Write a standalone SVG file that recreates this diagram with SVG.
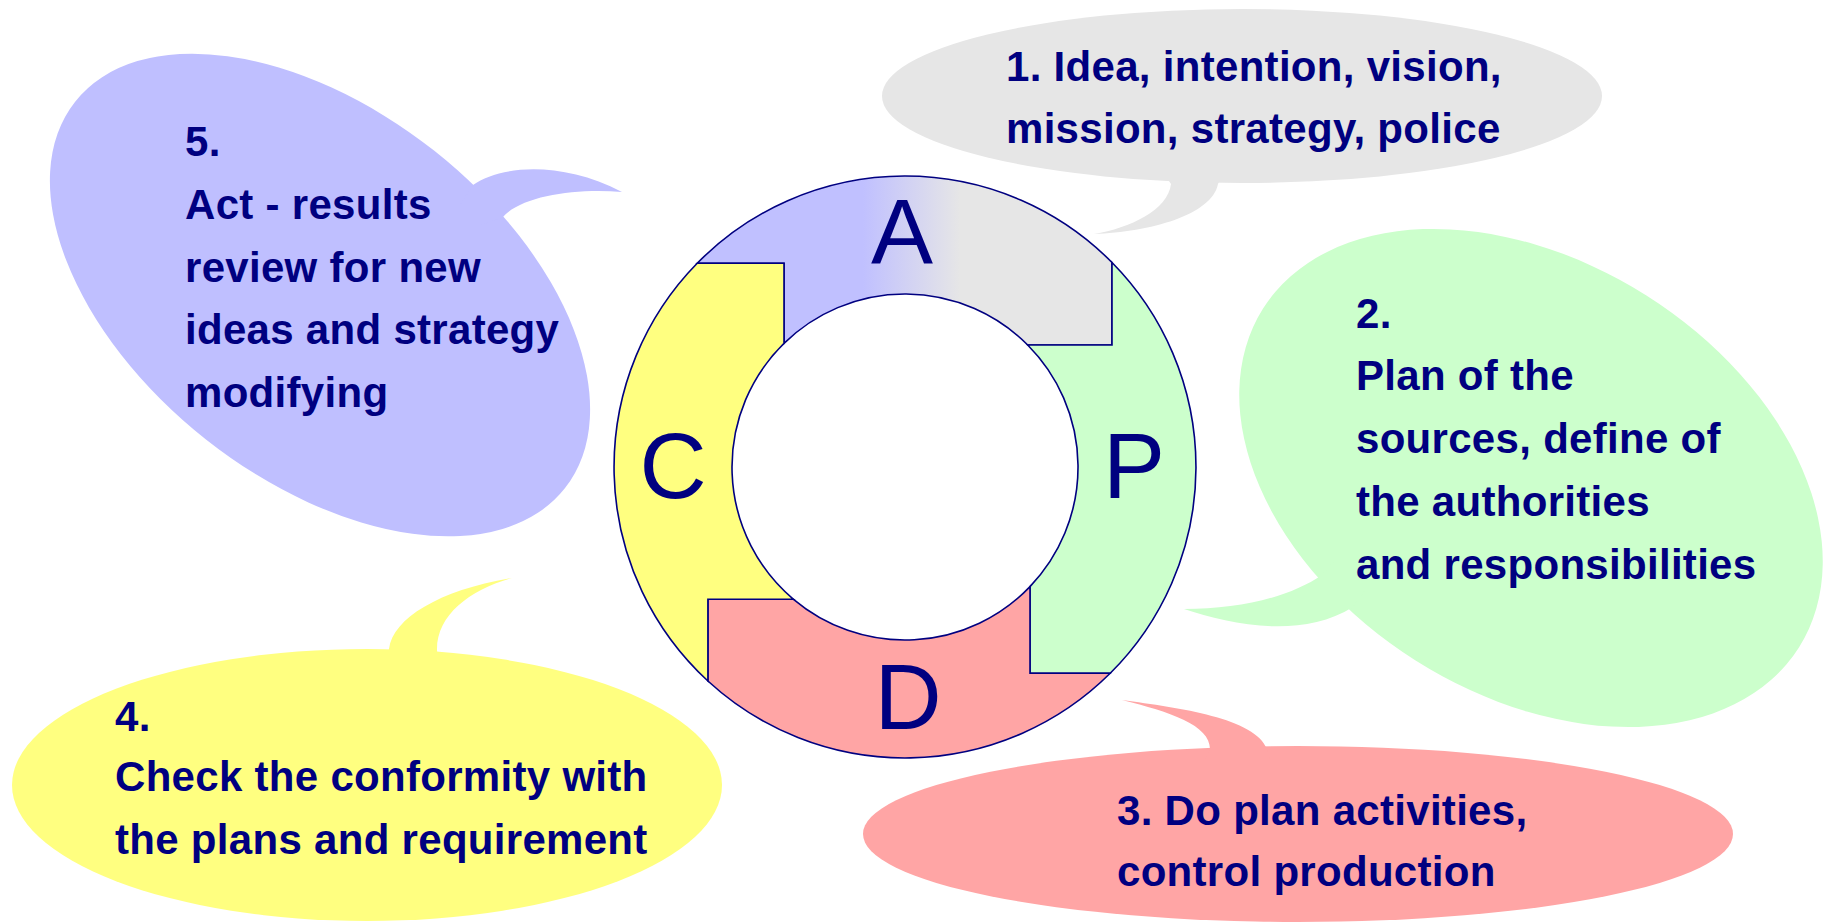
<svg xmlns="http://www.w3.org/2000/svg" width="1826" height="924" viewBox="0 0 1826 924">
<defs>
<linearGradient id="gA" gradientUnits="userSpaceOnUse" x1="863" y1="0" x2="960" y2="0">
<stop offset="0" stop-color="#C0C0FF"/>
<stop offset="1" stop-color="#E6E6E6"/>
</linearGradient>
<style>
.t{font-family:"Liberation Sans",Arial,sans-serif;font-weight:bold;font-size:42px;fill:#000080;letter-spacing:0.3px}
.L{font-family:"Liberation Sans",Arial,sans-serif;font-size:93px;fill:#000080;text-anchor:middle}
.seg{stroke:#000080;stroke-width:1.6;stroke-linejoin:miter}
</style>
</defs>
<rect width="1826" height="924" fill="#FFFFFF"/>
<g id="bubble5" fill="#BFBFFF">
<ellipse cx="320" cy="295" rx="312" ry="184" transform="rotate(38.3 320 295)"/>
<path d="M460,205 L473,185 C500,166 560,160 622,192 C575,188 520,196 502,218 L480,225 Z"/>
<text class="t" x="185" y="156">5.</text>
<text class="t" x="185" y="219">Act - results</text>
<text class="t" x="185" y="282">review for new</text>
<text class="t" x="185" y="344">ideas and strategy</text>
<text class="t" x="185" y="407">modifying</text>
</g>
<g id="bubble1" fill="#E6E6E6">
<ellipse cx="1242" cy="96" rx="360" ry="87"/>
<path d="M1165,175 L1171,184 C1168,210 1130,228 1094,234 C1150,232 1212,215 1218,184 L1222,175 Z"/>
<text class="t" x="1006" y="81">1. Idea, intention, vision,</text>
<text class="t" x="1006" y="143">mission, strategy, police</text>
</g>
<g id="bubble2" fill="#CCFFCC">
<ellipse cx="1531" cy="478" rx="317" ry="216" transform="rotate(32.3 1531 478)"/>
<path d="M1335,560 L1322,575 C1290,597 1240,609 1184,609 C1230,624 1300,640 1353,607 L1365,590 Z"/>
<text class="t" x="1356" y="328">2.</text>
<text class="t" x="1356" y="390">Plan of the</text>
<text class="t" x="1356" y="453">sources, define of</text>
<text class="t" x="1356" y="516">the authorities</text>
<text class="t" x="1356" y="579">and responsibilities</text>
</g>
<g id="bubble3" fill="#FFA5A5">
<ellipse cx="1298" cy="834" rx="435" ry="88"/>
<path d="M1205,760 L1210,749 C1210,725 1170,712 1122,700 C1180,708 1255,718 1267,749 L1270,760 Z"/>
<text class="t" x="1117" y="825">3. Do plan activities,</text>
<text class="t" x="1117" y="886">control production</text>
</g>
<g id="bubble4" fill="#FFFF80">
<ellipse cx="367" cy="785" rx="355" ry="136"/>
<path d="M385,662 L389,649 C393,618 440,590 512,578 C470,590 436,615 437,651 L440,662 Z"/>
<text class="t" x="115" y="731">4.</text>
<text class="t" x="115" y="791">Check the conformity with</text>
<text class="t" x="115" y="854">the plans and requirement</text>
</g>
<g id="ring">
<path id="segA" class="seg" fill="url(#gA)" d="M697.2,263.3 A291,291 0 0 1 1112,262.5 L1112,345 L1027.7,345 A173,173 0 0 0 784,343.4 L784,263.3 Z"/>
<path id="segP" class="seg" fill="#CCFFCC" d="M1112,262.5 A291,291 0 0 1 1110.2,673.3 L1030,673.3 L1030,586.6 A173,173 0 0 0 1027.7,345 L1112,345 Z"/>
<path id="segD" class="seg" fill="#FFA5A5" d="M1110.2,673.3 A291,291 0 0 1 707.9,681 L707.9,599.3 L793.5,599.3 A173,173 0 0 0 1030,586.6 L1030,673.3 Z"/>
<path id="segC" class="seg" fill="#FFFF80" d="M707.9,681 A291,291 0 0 1 697.2,263.3 L784,263.3 L784,343.4 A173,173 0 0 0 793.5,599.3 L707.9,599.3 Z"/>
<text class="L" x="902" y="264">A</text>
<text class="L" x="1134" y="498">P</text>
<text class="L" x="673" y="498">C</text>
<text class="L" x="908" y="729">D</text>
</g>
<g id="connectors"/>
</svg>
